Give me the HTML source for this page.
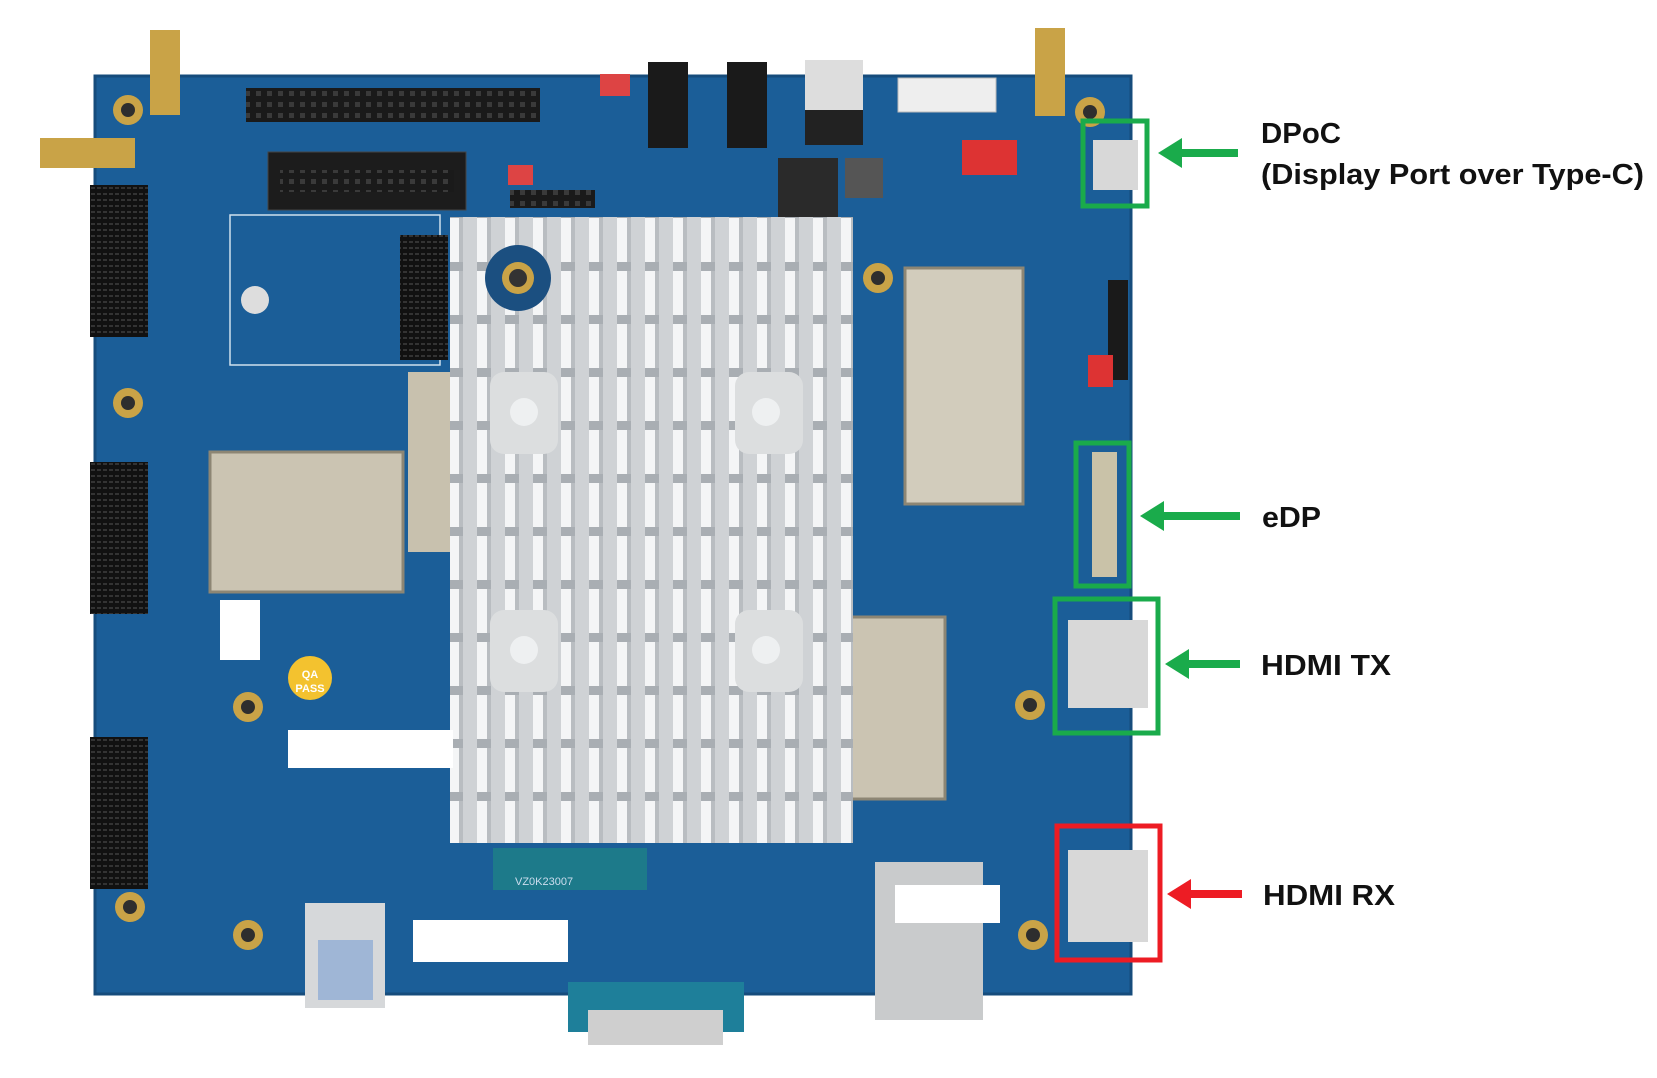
<!DOCTYPE html>
<html><head><meta charset="utf-8"><style>
html,body{margin:0;padding:0;background:#fff;width:1657px;height:1078px;overflow:hidden}
svg{display:block}
</style></head><body>
<svg width="1657" height="1078" viewBox="0 0 1657 1078" xmlns="http://www.w3.org/2000/svg">
<defs>
<pattern id="fins" x="447" y="218" width="28" height="53" patternUnits="userSpaceOnUse">
<rect width="28" height="53" fill="#cfd2d5"/>
<rect x="2" y="0" width="10" height="44" fill="#f4f5f6"/>
<rect x="12" y="0" width="4" height="44" fill="#b9bdc1"/>
<rect x="2" y="44" width="14" height="9" fill="#a9aeb3"/>
</pattern>
<pattern id="pins" width="11" height="11" patternUnits="userSpaceOnUse">
<rect width="11" height="11" fill="#1a1a1a"/><rect x="3" y="3" width="5" height="5" fill="#3a3a3a"/>
</pattern>
<pattern id="slot" width="6" height="6" patternUnits="userSpaceOnUse">
<rect width="6" height="6" fill="#111"/><rect x="1" y="1" width="4" height="2" fill="#333"/>
</pattern>
</defs>
<!-- board -->
<rect x="95" y="76" width="1036" height="918" fill="#1b5e98"/>
<rect x="95" y="76" width="1036" height="918" fill="none" stroke="#164c7c" stroke-width="3"/>
<rect x="230" y="215" width="210" height="150" fill="none" stroke="#cfe0ee" stroke-width="1.5"/>
<!-- antennas -->
<rect x="150" y="30" width="30" height="85" fill="#c9a347"/>
<rect x="40" y="138" width="95" height="30" fill="#c9a347"/>
<rect x="1035" y="28" width="30" height="88" fill="#c9a347"/>
<!-- header pins -->
<rect x="246" y="88" width="294" height="34" fill="url(#pins)"/>
<rect x="268" y="152" width="198" height="58" fill="#1c1c1c" stroke="#444"/>
<rect x="280" y="170" width="174" height="22" fill="url(#pins)"/>
<rect x="510" y="190" width="85" height="18" fill="url(#pins)"/>
<rect x="600" y="74" width="30" height="22" fill="#d44"/>
<rect x="508" y="165" width="25" height="20" fill="#d44"/>
<!-- audio jacks, dc -->
<rect x="648" y="62" width="40" height="86" fill="#1a1a1a"/>
<rect x="727" y="62" width="40" height="86" fill="#1a1a1a"/>
<rect x="805" y="60" width="58" height="80" fill="#ddd"/>
<rect x="805" y="110" width="58" height="35" fill="#222"/>
<rect x="898" y="78" width="98" height="34" fill="#eee" stroke="#bbb"/>
<rect x="778" y="158" width="60" height="70" fill="#2a2a2a"/>
<rect x="845" y="158" width="38" height="40" fill="#555"/>
<rect x="962" y="140" width="55" height="35" fill="#d33"/>
<!-- PCIe slots left -->
<rect x="90" y="185" width="58" height="152" fill="url(#slot)"/>
<rect x="90" y="462" width="58" height="152" fill="url(#slot)"/>
<rect x="90" y="737" width="58" height="152" fill="url(#slot)"/>
<!-- M.2 -->
<rect x="400" y="235" width="48" height="125" fill="url(#slot)"/>
<!-- shields -->
<rect x="210" y="452" width="193" height="140" fill="#cbc4b2" stroke="#8d8674" stroke-width="3"/>
<rect x="408" y="372" width="45" height="180" fill="#c8c1ae"/>
<rect x="905" y="268" width="118" height="236" fill="#d2ccbc" stroke="#8d8674" stroke-width="3"/>
<rect x="845" y="617" width="100" height="182" fill="#cbc4b2" stroke="#8d8674" stroke-width="3"/>
<!-- heatsink -->
<rect x="450" y="217" width="403" height="626" fill="url(#fins)"/>
<circle cx="518" cy="278" r="33" fill="#1b4f80"/>
<circle cx="518" cy="278" r="16" fill="#c9a347"/><circle cx="518" cy="278" r="9" fill="#333"/>
<rect x="490" y="372" width="68" height="82" rx="14" fill="#dcdedf"/>
<rect x="735" y="372" width="68" height="82" rx="14" fill="#dcdedf"/>
<rect x="490" y="610" width="68" height="82" rx="14" fill="#dcdedf"/>
<rect x="735" y="610" width="68" height="82" rx="14" fill="#dcdedf"/>
<circle cx="524" cy="412" r="14" fill="#eef0f1"/><circle cx="766" cy="412" r="14" fill="#eef0f1"/>
<circle cx="524" cy="650" r="14" fill="#eef0f1"/><circle cx="766" cy="650" r="14" fill="#eef0f1"/>
<!-- mounting holes -->
<g fill="#c9a347"><circle cx="128" cy="110" r="15"/><circle cx="128" cy="403" r="15"/><circle cx="130" cy="907" r="15"/>
<circle cx="248" cy="707" r="15"/><circle cx="248" cy="935" r="15"/><circle cx="878" cy="278" r="15"/>
<circle cx="1030" cy="705" r="15"/><circle cx="1033" cy="935" r="15"/><circle cx="1090" cy="112" r="15"/></g>
<g fill="#2e2e2e"><circle cx="128" cy="110" r="7"/><circle cx="128" cy="403" r="7"/><circle cx="130" cy="907" r="7"/>
<circle cx="248" cy="707" r="7"/><circle cx="248" cy="935" r="7"/><circle cx="878" cy="278" r="7"/>
<circle cx="1030" cy="705" r="7"/><circle cx="1033" cy="935" r="7"/><circle cx="1090" cy="112" r="7"/></g>
<circle cx="255" cy="300" r="14" fill="#ddd"/>
<circle cx="310" cy="678" r="22" fill="#f3c22f"/>
<text x="310" y="678" font-family="Liberation Sans,sans-serif" font-size="11" fill="#fff" text-anchor="middle" font-weight="bold">QA</text>
<text x="310" y="692" font-family="Liberation Sans,sans-serif" font-size="11" fill="#fff" text-anchor="middle" font-weight="bold">PASS</text>
<rect x="220" y="600" width="40" height="60" fill="#fff"/>
<!-- labels/stickers -->
<rect x="288" y="730" width="165" height="38" fill="#fff"/>
<rect x="413" y="920" width="155" height="42" fill="#fff"/>
<rect x="493" y="848" width="154" height="42" fill="#1d7a8a"/>
<text x="515" y="885" font-family="Liberation Sans,sans-serif" font-size="11" fill="#cde">VZ0K23007</text>
<!-- bottom connectors -->
<rect x="305" y="903" width="80" height="105" fill="#d6d8da"/>
<rect x="318" y="940" width="55" height="60" fill="#9fb6d6"/>
<rect x="568" y="982" width="176" height="50" fill="#1e7f9a"/>
<rect x="588" y="1010" width="135" height="35" fill="#cfcfcf"/>
<rect x="875" y="862" width="108" height="158" fill="#c9cbcc"/>
<rect x="895" y="885" width="105" height="38" fill="#fff"/>
<!-- right side connectors -->
<rect x="1093" y="140" width="45" height="50" fill="#d8d8d8"/>
<rect x="1092" y="452" width="25" height="125" fill="#c9c2a8"/>
<rect x="1068" y="620" width="80" height="88" fill="#d8d8d8"/>
<rect x="1068" y="850" width="80" height="92" fill="#d8d8d8"/>
<rect x="1108" y="280" width="20" height="100" fill="#1a1a1a"/>
<rect x="1088" y="355" width="25" height="32" fill="#d33"/>
<!-- callout boxes -->
<g fill="none" stroke-width="5">
<rect x="1083" y="121" width="64" height="85" stroke="#1aab4b"/>
<rect x="1076" y="443" width="53" height="143" stroke="#1aab4b"/>
<rect x="1055" y="599" width="103" height="134" stroke="#1aab4b"/>
<rect x="1057" y="826" width="103" height="134" stroke="#ed1c24"/>
</g>
<!-- arrows -->
<g fill="#1aab4b">
<rect x="1178" y="149" width="60" height="8"/><polygon points="1158,153 1182,138 1182,168"/>
<rect x="1160" y="512" width="80" height="8"/><polygon points="1140,516 1164,501 1164,531"/>
<rect x="1185" y="660" width="55" height="8"/><polygon points="1165,664 1189,649 1189,679"/>
</g>
<g fill="#ed1c24"><rect x="1187" y="890" width="55" height="8"/><polygon points="1167,894 1191,879 1191,909"/></g>
<!-- text -->
<g font-family="Liberation Sans,sans-serif" font-weight="bold" font-size="29" fill="#111">
<text x="1261" y="143" textLength="80" lengthAdjust="spacingAndGlyphs">DPoC</text>
<text x="1261" y="184" textLength="383" lengthAdjust="spacingAndGlyphs">(Display Port over Type-C)</text>
<text x="1262" y="527" textLength="59" lengthAdjust="spacingAndGlyphs">eDP</text>
<text x="1261" y="675" textLength="130" lengthAdjust="spacingAndGlyphs">HDMI TX</text>
<text x="1263" y="905" textLength="132" lengthAdjust="spacingAndGlyphs">HDMI RX</text>
</g>
</svg>
</body></html>
